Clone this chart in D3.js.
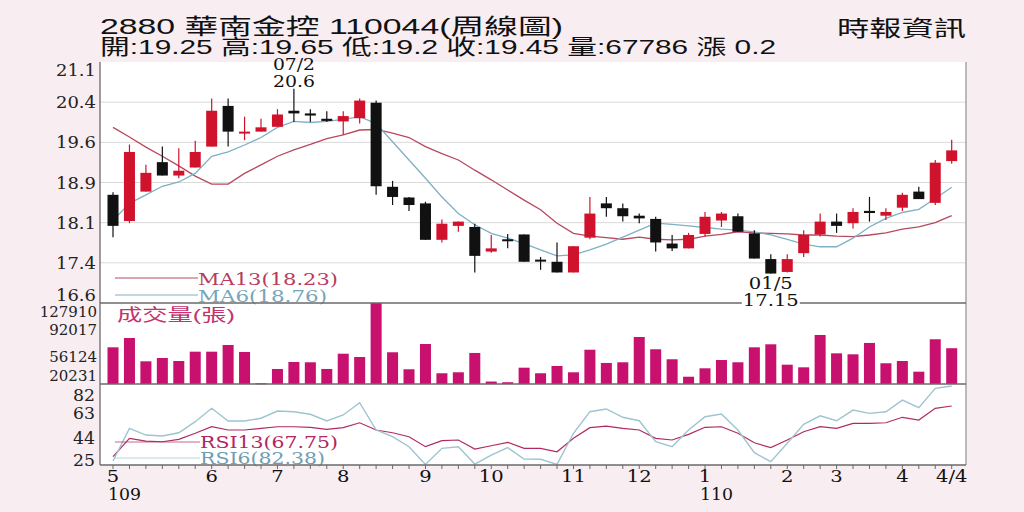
<!DOCTYPE html>
<html>
<head>
<meta charset="utf-8">
<script src="https://cdn.jsdelivr.net/npm/d3@7"></script>
<style>
  html, body { margin: 0; padding: 0; background: #f8edf1; }
  svg { display: block; }
</style>
</head>
<body>
<div id="chart"></div>
<script>
// ---- data (weekly, 109/5 .. 110/4) ----
const open  = [18.62,18.13,18.68,19.23,18.98,19.13,19.52,20.28,19.79,19.80,19.89,20.19,20.14,20.04,19.99,20.05,20.34,18.77,18.57,18.46,17.78,18.04,18.02,17.56,17.79,17.88,17.41,17.37,17.17,17.82,18.46,18.37,18.23,18.17,17.71,17.62,17.89,18.14,18.22,17.90,17.42,17.18,17.53,17.88,18.12,18.09,18.32,18.23,18.38,18.68,18.47,19.25];
const high  = [18.67,19.56,19.18,19.52,19.49,19.63,20.42,20.42,20.08,20.04,20.22,20.60,20.22,20.18,20.18,20.42,20.38,18.88,18.58,18.49,18.16,18.12,18.08,17.87,17.89,17.88,17.46,17.73,17.66,18.58,18.58,18.46,18.27,18.21,17.87,17.91,18.30,18.30,18.27,17.96,17.51,17.51,17.96,18.27,18.27,18.37,18.58,18.37,18.66,18.77,19.27,19.65];
const low   = [17.83,18.09,18.68,18.98,18.93,19.13,19.52,19.52,19.64,19.80,19.89,19.98,19.98,19.98,19.74,19.95,18.62,18.43,18.32,17.78,17.73,17.93,17.17,17.54,17.62,17.37,17.22,17.17,17.17,17.79,18.21,18.12,18.09,17.56,17.57,17.62,17.84,18.02,17.93,17.43,17.15,17.17,17.46,17.84,17.91,17.99,18.12,18.15,18.32,18.54,18.43,19.20];
const close = [18.04,19.42,19.03,18.98,19.07,19.42,20.19,19.80,19.80,19.88,20.12,20.14,20.10,20.00,20.09,20.38,18.78,18.58,18.43,17.78,18.08,18.12,17.48,17.62,17.78,17.37,17.40,17.17,17.66,18.27,18.37,18.22,18.18,17.73,17.62,17.87,18.21,18.27,17.93,17.43,17.15,17.42,17.87,18.12,18.04,18.30,18.28,18.30,18.62,18.54,19.22,19.45];
const volume = [69000,81400,50400,54800,50800,63200,63200,72100,62800,21200,40200,49500,49100,40200,60500,56100,127910,62400,39800,73400,34500,35800,61500,23500,22600,41900,34500,44200,35800,65800,48200,49100,82700,66400,53100,29900,41100,52100,49100,69000,73000,45900,42400,85400,61000,59700,74800,47800,50800,36600,79700,67786];
const ma6  = [18.14,18.46,18.62,18.78,18.86,19.02,19.34,19.42,19.55,19.69,19.88,19.99,19.97,19.99,20.03,20.08,19.95,19.61,19.27,18.93,18.58,18.27,18.06,17.90,17.81,17.71,17.59,17.48,17.50,17.59,17.70,17.83,17.96,18.09,18.07,18.04,18.01,17.98,17.96,17.93,17.87,17.79,17.70,17.65,17.65,17.81,18.02,18.18,18.29,18.35,18.55,18.76];
const ma13 = [19.88,19.70,19.51,19.34,19.16,18.97,18.82,18.82,19.02,19.18,19.34,19.46,19.56,19.67,19.74,19.83,19.84,19.77,19.69,19.52,19.39,19.27,19.08,18.90,18.71,18.52,18.34,18.09,17.90,17.85,17.82,17.79,17.83,17.79,17.78,17.79,17.85,17.88,17.93,17.91,17.90,17.89,17.87,17.87,17.85,17.84,17.87,17.91,17.98,18.02,18.10,18.23];
const rsi6  = [27.5,51.4,46.5,45.8,48.2,56.3,66.1,56.8,56.8,58.8,64.1,63.6,61.7,56.8,61.2,70.2,50.2,45.3,38.0,25.0,36.8,38.0,25.3,31.9,37.3,29.0,28.8,25.1,47.8,63.6,65.6,59.5,57.0,41.6,38.0,50.2,59.9,61.9,50.2,33.6,27.0,40.5,54.4,60.6,57.0,64.8,62.4,63.6,72.1,66.5,80.7,82.38];
const rsi13 = [30.7,44.1,42.1,41.6,43.4,47.8,52.6,50.2,50.2,51.4,52.6,52.6,52.2,50.7,51.9,55.5,50.2,48.2,45.3,38.0,42.4,42.9,36.3,38.7,41.2,36.8,36.8,34.3,44.1,51.9,53.1,51.4,50.2,44.1,42.9,47.0,52.2,52.6,47.8,40.9,37.3,42.9,48.9,52.6,51.4,55.1,55.1,55.5,59.5,57.5,66.1,67.75];

const priceTicks  = [16.6, 17.35, 18.1, 18.85, 19.6, 20.35, 21.1];
const priceLabels = ['16.6','17.4','18.1','18.9','19.6','20.4','21.1'];
const volumeTicks = [20231, 56124, 92017, 127910];
const rsiTicks    = [25, 44, 63, 82];

// month label: [week index, label]
const monthTicks = [[0,'5'],[6,'6'],[10,'7'],[14,'8'],[19,'9'],[23,'10'],[28,'11'],[32,'12'],[36,'1'],[41,'2'],[44,'3'],[48,'4'],[51,'4/4']];
const yearTicks  = [[0,'109'],[36,'110']];
const peakDate = '07/2', troughDate = '01/5';

const title1 = '2880  華南金控 110044(周線圖)';
const title2 = '開:19.25 高:19.65 低:19.2 收:19.45 量:67786 漲 0.2';
const source = '時報資訊';

// ---- layout ----
const W = 1024, H = 512;
const left = 100, right = 966;
const priceTop = 62, priceBottom = 303, volBottom = 384, rsiBottom = 465;

const C = {
  bg: '#f8edf1', red: '#d0122c', black: '#111', vol: '#c8106e',
  ma13: '#b8485e', ma6: '#7fb0c4', rsi13: '#b02a62', rsi6: '#9ec4d0',
  grid: '#d9d9d9', axis: '#6a6a6a'
};
const serif = '"DejaVu Serif", "Liberation Serif", serif';
const cjk = '"Liberation Sans", "Noto Sans CJK TC", sans-serif';

const svg = d3.select('#chart').append('svg')
  .attr('width', W).attr('height', H);

svg.append('rect').attr('width', W).attr('height', H).attr('fill', C.bg);
svg.append('rect')
  .attr('x', left).attr('y', priceTop)
  .attr('width', right - left).attr('height', rsiBottom - priceTop)
  .attr('fill', '#fff');

// scales
const n = close.length;
const x = d3.scaleBand().domain(d3.range(n)).range([107.5, 957.2]).paddingInner(0.33);
const cx = i => x(i) + x.bandwidth() / 2;
const y = d3.scaleLinear().domain([16.6, 21.1]).range([priceBottom, priceTop]);
const vy = d3.scaleLinear().domain([20231, 127910]).range([volBottom, priceBottom]);
const ry = d3.scaleLinear().domain([24.6, 84.6]).range([rsiBottom, volBottom - 1]);

// ---- header ----
svg.append('text').attr('x', 100).attr('y', 34)
  .attr('font-family', cjk).attr('font-size', 22).attr('fill', '#111')
  .attr('textLength', 463).attr('lengthAdjust', 'spacingAndGlyphs')
  .text(title1);
svg.append('text').attr('x', 100).attr('y', 54)
  .attr('font-family', cjk).attr('font-size', 21).attr('fill', '#111')
  .attr('textLength', 676).attr('lengthAdjust', 'spacingAndGlyphs')
  .text(title2);
svg.append('text').attr('x', 837).attr('y', 36)
  .attr('font-family', cjk).attr('font-size', 22).attr('fill', '#111')
  .attr('textLength', 129).attr('lengthAdjust', 'spacingAndGlyphs')
  .text(source);

// ---- price panel ----
svg.append('g').selectAll('line')
  .data(priceTicks.slice(1, -1))
  .enter().append('line')
  .attr('x1', left).attr('x2', right)
  .attr('y1', d => y(d)).attr('y2', d => y(d))
  .attr('stroke', C.grid).attr('stroke-width', 1);

const clampY = (v, top, bottom, padTop, padBottom) =>
  Math.max(top + padTop, Math.min(bottom - padBottom, v));

svg.append('g').selectAll('text')
  .data(priceTicks)
  .enter().append('text')
  .attr('x', 96)
  .attr('y', d => clampY(y(d), priceTop, priceBottom, 8, 8) + 6)
  .attr('text-anchor', 'end')
  .attr('font-family', serif).attr('font-size', 17).attr('fill', '#222')
  .attr('textLength', 40).attr('lengthAdjust', 'spacingAndGlyphs')
  .text((d, i) => priceLabels[i]);

// moving averages
const line = d3.line().x((d, i) => cx(i));
svg.append('path').datum(ma13)
  .attr('d', line.y(d => y(d)))
  .attr('fill', 'none').attr('stroke', C.ma13).attr('stroke-width', 1.3);
svg.append('path').datum(ma6)
  .attr('d', line.y(d => y(d)))
  .attr('fill', 'none').attr('stroke', C.ma6).attr('stroke-width', 1.3);

// candles
const candle = svg.append('g').selectAll('g')
  .data(d3.range(n))
  .enter().append('g');
const col = i => close[i] >= open[i] ? C.red : C.black;

candle.append('line')
  .attr('x1', cx).attr('x2', cx)
  .attr('y1', i => y(high[i])).attr('y2', i => y(low[i]))
  .attr('stroke', col).attr('stroke-width', 1.2);
candle.append('rect')
  .attr('x', i => x(i))
  .attr('width', x.bandwidth())
  .attr('y', i => y(Math.max(open[i], close[i])))
  .attr('height', i => Math.max(2, Math.abs(y(open[i]) - y(close[i]))))
  .attr('fill', col);

// peak / trough notes
const hi = d3.maxIndex(high), lo = d3.minIndex(low);
const note = svg.append('g')
  .attr('font-family', serif).attr('font-size', 16).attr('fill', '#111')
  .attr('text-anchor', 'middle');
note.append('text').attr('x', cx(hi)).attr('y', y(high[hi]) - 19)
  .attr('textLength', 42).attr('lengthAdjust', 'spacingAndGlyphs').text(peakDate);
note.append('text').attr('x', cx(hi)).attr('y', y(high[hi]) - 2)
  .attr('textLength', 42).attr('lengthAdjust', 'spacingAndGlyphs').text(String(high[hi]));
note.append('text').attr('x', cx(lo)).attr('y', y(low[lo]) + 15)
  .attr('textLength', 44).attr('lengthAdjust', 'spacingAndGlyphs').text(troughDate);

// MA legend
const maLegend = [
  { name: 'MA13', v: ma13[n - 1], c: C.ma13, t: '#b83c5a', w: 140 },
  { name: 'MA6', v: ma6[n - 1], c: C.ma6, t: '#74a6bc', w: 129 }
];
const mal = svg.append('g').selectAll('g')
  .data(maLegend).enter().append('g')
  .attr('transform', (d, i) => 'translate(0,' + (278 + i * 17) + ')');
mal.append('line').attr('x1', 115).attr('x2', 198)
  .attr('stroke', d => d.c).attr('stroke-width', 1);
mal.append('text').attr('x', 198).attr('y', 7)
  .attr('font-family', serif).attr('font-size', 17)
  .attr('fill', d => d.t)
  .attr('textLength', d => d.w).attr('lengthAdjust', 'spacingAndGlyphs')
  .text(d => d.name + '(' + d.v.toFixed(2) + ')');

// ---- volume panel ----
svg.append('g').selectAll('rect')
  .data(volume)
  .enter().append('rect')
  .attr('x', (d, i) => x(i))
  .attr('width', x.bandwidth())
  .attr('y', d => vy(d))
  .attr('height', d => Math.max(1, volBottom - vy(d)))
  .attr('fill', C.vol);

svg.append('g').selectAll('text')
  .data(volumeTicks)
  .enter().append('text')
  .attr('x', 97)
  .attr('y', d => clampY(vy(d), priceBottom, volBottom, 9, 8) + 5)
  .attr('text-anchor', 'end')
  .attr('font-family', serif).attr('font-size', 15).attr('fill', '#222')
  .text(d => d);

svg.append('text').attr('x', 117).attr('y', 321)
  .attr('font-family', cjk).attr('font-size', 17).attr('fill', '#c4336f')
  .attr('textLength', 118).attr('lengthAdjust', 'spacingAndGlyphs')
  .text('成交量(張)');

// ---- RSI panel ----
svg.append('path').datum(rsi13)
  .attr('d', line.y(d => ry(d)))
  .attr('fill', 'none').attr('stroke', C.rsi13).attr('stroke-width', 1.2);
svg.append('path').datum(rsi6)
  .attr('d', line.y(d => ry(d)))
  .attr('fill', 'none').attr('stroke', C.rsi6).attr('stroke-width', 1.4);

svg.append('g').selectAll('text')
  .data(rsiTicks)
  .enter().append('text')
  .attr('x', 95)
  .attr('y', d => clampY(ry(d), volBottom, rsiBottom, 11, 5) + 6)
  .attr('text-anchor', 'end')
  .attr('font-family', serif).attr('font-size', 16).attr('fill', '#222')
  .attr('textLength', 22).attr('lengthAdjust', 'spacingAndGlyphs')
  .text(d => d);

const rsiLegend = [
  { name: 'RSI13', v: rsi13[n - 1], c: C.rsi13, t: '#b0265e', w: 138 },
  { name: 'RSI6', v: rsi6[n - 1], c: C.rsi6, t: '#6e9db3', w: 125 }
];
const rl = svg.append('g').selectAll('g')
  .data(rsiLegend).enter().append('g')
  .attr('transform', (d, i) => 'translate(0,' + (442 + i * 16) + ')');
rl.append('line').attr('x1', 115).attr('x2', 200)
  .attr('stroke', d => d.c).attr('stroke-width', 1).attr('opacity', 0.7);
rl.append('text').attr('x', 200).attr('y', 6)
  .attr('font-family', serif).attr('font-size', 16)
  .attr('fill', d => d.t)
  .attr('textLength', d => d.w).attr('lengthAdjust', 'spacingAndGlyphs')
  .text(d => d.name + '(' + d.v.toFixed(2) + ')');

// ---- frame ----
const frame = svg.append('g').attr('stroke', C.axis).attr('stroke-width', 1.3);
frame.append('line').attr('x1', left).attr('x2', left).attr('y1', priceTop).attr('y2', rsiBottom);
frame.append('line').attr('x1', right).attr('x2', right).attr('y1', priceTop).attr('y2', rsiBottom)
  .attr('stroke', '#9a9a9a');
[priceBottom, volBottom, rsiBottom].forEach(v => {
  frame.append('line').attr('x1', left).attr('x2', right).attr('y1', v).attr('y2', v);
});

// weekly ticks on the time axis
svg.append('g').selectAll('line')
  .data(d3.range(n))
  .enter().append('line')
  .attr('x1', cx).attr('x2', cx)
  .attr('y1', rsiBottom).attr('y2', rsiBottom + 4)
  .attr('stroke', C.axis).attr('stroke-width', 1);

// trough value, sitting on the separator line
const tv = svg.append('g');
const tvText = tv.append('text')
  .attr('x', cx(lo)).attr('y', y(low[lo]) + 32)
  .attr('text-anchor', 'middle')
  .attr('font-family', serif).attr('font-size', 16).attr('fill', '#111')
  .attr('textLength', 56).attr('lengthAdjust', 'spacingAndGlyphs')
  .text(String(low[lo]));
const bb = tvText.node().getBBox();
tv.insert('rect', 'text')
  .attr('x', bb.x - 1).attr('y', priceBottom - 1)
  .attr('width', bb.width + 2).attr('height', 3)
  .attr('fill', '#fff');

// month / year labels
svg.append('g').selectAll('text')
  .data(monthTicks)
  .enter().append('text')
  .attr('x', d => cx(d[0]))
  .attr('y', 482)
  .attr('text-anchor', 'middle')
  .attr('font-family', serif).attr('font-size', 17).attr('fill', '#111')
  .attr('transform', d => 'translate(' + cx(d[0]) + ',0) scale(1.15,1) translate(' + (-cx(d[0])) + ',0)')
  .text(d => d[1]);
svg.append('g').selectAll('text')
  .data(yearTicks)
  .enter().append('text')
  .attr('x', d => cx(d[0]) - 5)
  .attr('y', 500)
  .attr('font-family', serif).attr('font-size', 17).attr('fill', '#111')
  .attr('textLength', 33).attr('lengthAdjust', 'spacingAndGlyphs')
  .text(d => d[1]);
</script>
</body>
</html>
